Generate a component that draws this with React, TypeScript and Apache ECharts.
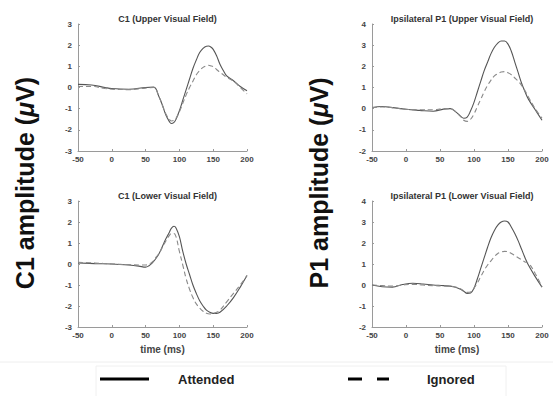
import React, { useEffect, useRef } from "react";
import * as echarts from "echarts";

// Panel A: C1 (Upper Visual Field)
const timeA = [-50, -30, -10, 0, 25, 50, 62, 70, 75, 80, 85, 88, 92, 95, 100, 105, 110, 115, 120, 125, 130, 135, 140, 143, 147, 150, 155, 160, 165, 170, 180, 190, 200];
const attA = [0.15, 0.12, 0.0, -0.05, -0.08, 0.0, 0.02, -0.45, -0.85, -1.3, -1.6, -1.7, -1.65, -1.5, -1.1, -0.6, -0.1, 0.4, 0.9, 1.3, 1.65, 1.85, 1.95, 1.96, 1.9, 1.8, 1.5, 1.1, 0.8, 0.55, 0.32, 0.05, -0.15];
const ignA = [0.05, 0.05, -0.05, -0.08, -0.1, -0.03, 0.0, -0.45, -0.85, -1.25, -1.5, -1.58, -1.55, -1.45, -1.15, -0.75, -0.35, 0.0, 0.3, 0.6, 0.8, 0.95, 1.03, 1.05, 1.02, 0.98, 0.85, 0.72, 0.6, 0.48, 0.3, 0.0, -0.3];

// Panel B: Ipsilateral P1 (Upper Visual Field)
const timeB = [-50, -35, -20, 0, 20, 40, 55, 65, 75, 80, 85, 90, 95, 100, 105, 110, 115, 120, 125, 130, 135, 140, 145, 150, 155, 160, 165, 170, 175, 180, 190, 200];
const attB = [0.05, 0.1, 0.05, -0.03, -0.08, -0.12, -0.02, 0.0, -0.2, -0.35, -0.45, -0.4, -0.1, 0.3, 0.8, 1.3, 1.8, 2.2, 2.6, 2.9, 3.1, 3.2, 3.2, 3.05, 2.7, 2.2, 1.7, 1.2, 0.8, 0.45, -0.05, -0.55];
const ignB = [0.05, 0.08, 0.05, -0.03, -0.05, -0.05, 0.0, 0.0, -0.2, -0.35, -0.55, -0.6, -0.5, -0.25, 0.1, 0.45, 0.8, 1.1, 1.35, 1.55, 1.65, 1.73, 1.75, 1.7, 1.6, 1.45, 1.3, 1.1, 0.85, 0.55, 0.0, -0.45];

// Panel C: C1 (Lower Visual Field)
const timeC = [-50, -25, 0, 25, 40, 50, 55, 60, 65, 70, 75, 80, 85, 88, 92, 95, 100, 105, 110, 115, 120, 125, 130, 135, 140, 145, 150, 155, 160, 170, 180, 190, 200];
const attC = [0.05, 0.02, 0.0, -0.05, -0.1, -0.15, -0.08, 0.05, 0.25, 0.5, 0.85, 1.2, 1.5, 1.7, 1.8, 1.72, 1.3, 0.6, 0.0, -0.5, -1.0, -1.4, -1.75, -2.0, -2.2, -2.3, -2.35, -2.35, -2.3, -2.0, -1.6, -1.1, -0.55];
const ignC = [0.08, 0.05, 0.0, -0.03, -0.05, -0.05, 0.0, 0.1, 0.3, 0.5, 0.8, 1.1, 1.35, 1.45, 1.45, 1.3, 0.6, -0.05, -0.7, -1.2, -1.6, -1.9, -2.1, -2.25, -2.35, -2.38, -2.35, -2.3, -2.2, -1.8, -1.4, -1.0, -0.55];

// Panel D: Ipsilateral P1 (Lower Visual Field)
const timeD = [-50, -35, -20, -5, 10, 25, 40, 55, 70, 80, 85, 90, 95, 100, 105, 110, 115, 120, 125, 130, 135, 140, 145, 150, 155, 160, 165, 170, 175, 180, 190, 200];
const attD = [0.0, -0.08, -0.1, 0.02, 0.08, 0.05, 0.0, -0.03, -0.08, -0.2, -0.3, -0.4, -0.38, -0.15, 0.3, 0.8, 1.3, 1.8, 2.25, 2.6, 2.85, 3.0, 3.05, 3.0, 2.75, 2.45, 2.1, 1.7, 1.3, 0.95, 0.4, -0.1];
const ignD = [0.0, -0.03, -0.05, 0.0, 0.03, 0.0, -0.03, -0.05, -0.08, -0.18, -0.28, -0.35, -0.33, -0.15, 0.1, 0.4, 0.7, 0.95, 1.15, 1.35, 1.5, 1.57, 1.6, 1.58, 1.5, 1.4, 1.3, 1.2, 1.1, 1.05, 0.55, -0.1];

const titles = [
  "C1 (Upper Visual Field)",
  "Ipsilateral P1 (Upper Visual Field)",
  "C1 (Lower Visual Field)",
  "Ipsilateral P1 (Lower Visual Field)",
];
const xTicks = [-50, 0, 50, 100, 150, 200];
const yRanges = [
  [-3, 3],
  [-2, 4],
  [-3, 3],
  [-2, 4],
];
const legendNames = ["Attended", "Ignored"];
const xAxisLabel = "time (ms)";
const yLabelPrefixes = ["C1", "P1"];

const pair = (t: number[], v: number[]) => t.map((x, i) => [x, v[i]]);

export default function App() {
  const ref = useRef<HTMLDivElement>(null);
  useEffect(() => {
    if (!ref.current) return;
    const chart = echarts.init(ref.current, undefined, { renderer: "svg" });
    const grids = [
      { left: 78, top: 24, width: 169, height: 127 },
      { left: 372, top: 24, width: 170, height: 127 },
      { left: 78, top: 201, width: 169, height: 126 },
      { left: 372, top: 201, width: 170, height: 126 },
    ];
    const font = "Liberation Sans, Arial, sans-serif";
    const axisColor = "#9a9a9a";
    const labelColor = "#444";
    const panels = [
      [timeA, attA, ignA],
      [timeB, attB, ignB],
      [timeC, attC, ignC],
      [timeD, attD, ignD],
    ];
    const series: any[] = [];
    panels.forEach((p, i) => {
      series.push({
        type: "line",
        name: legendNames[0],
        xAxisIndex: i,
        yAxisIndex: i,
        data: pair(p[0], p[1]),
        smooth: 0.4,
        showSymbol: false,
        lineStyle: { color: "#555", width: 1.1 },
      });
      series.push({
        type: "line",
        name: legendNames[1],
        xAxisIndex: i,
        yAxisIndex: i,
        data: pair(p[0], p[2]),
        smooth: 0.4,
        showSymbol: false,
        lineStyle: { color: "#8a8a8a", width: 1.1, type: [5, 3] },
      });
    });
    const bigLabel = (prefix: string, x: number) => ({
      type: "text",
      x,
      y: 183,
      rotation: Math.PI / 2,
      style: {
        text: `${prefix} amplitude ({mu|\u03BC}V)`,
        fontSize: 25,
        fontWeight: "bold",
        fill: "#111",
        fontFamily: font,
        align: "center",
        verticalAlign: "middle",
        rich: {
          mu: {
            fontSize: 25,
            fontStyle: "italic",
            fontWeight: "bold",
            fill: "#111",
            fontFamily: font,
          },
        },
      },
    });
    const option: any = {
      animation: false,
      backgroundColor: "#fff",
      title: titles.map((t, i) => ({
        text: t,
        left: grids[i].left + grids[i].width / 2,
        textAlign: "center",
        top: grids[i].top - 15,
        textStyle: { fontSize: 9, fontWeight: "bold", color: "#333", fontFamily: font },
      })),
      grid: grids,
      xAxis: grids.map((_, i) => ({
        type: "value",
        gridIndex: i,
        min: -50,
        max: 200,
        interval: 50,
        axisLine: { show: true, onZero: false, lineStyle: { color: axisColor, width: 1 } },
        axisTick: { show: true, inside: true, length: 2, lineStyle: { color: axisColor } },
        axisLabel: {
          fontSize: 8,
          fontWeight: "bold",
          color: labelColor,
          fontFamily: font,
          margin: 4,
          showMinLabel: true,
          showMaxLabel: true,
          customValues: xTicks,
        },
        splitLine: { show: false },
        name: i >= 2 ? xAxisLabel : "",
        nameLocation: "middle",
        nameGap: 17,
        nameTextStyle: { fontSize: 10, fontWeight: "bold", color: labelColor, fontFamily: font },
      })),
      yAxis: grids.map((_, i) => ({
        type: "value",
        gridIndex: i,
        min: yRanges[i][0],
        max: yRanges[i][1],
        interval: 1,
        axisLine: { show: true, onZero: false, lineStyle: { color: axisColor, width: 1 } },
        axisTick: { show: true, inside: true, length: 2, lineStyle: { color: axisColor } },
        axisLabel: {
          fontSize: 8,
          fontWeight: "bold",
          color: labelColor,
          fontFamily: font,
          margin: 6,
        },
        splitLine: { show: false },
      })),
      series,
      graphic: [
        bigLabel(yLabelPrefixes[0], 25),
        bigLabel(yLabelPrefixes[1], 319),
        {
          type: "line",
          shape: { x1: 0, y1: 362, x2: 553, y2: 362 },
          style: { stroke: "#eeeeee", lineWidth: 1 },
        },
        {
          type: "rect",
          shape: { x: 96, y: 366, width: 410, height: 32 },
          style: { fill: "none", stroke: "#f0f0f0", lineWidth: 1 },
        },
        {
          type: "line",
          shape: { x1: 100, y1: 379, x2: 149, y2: 379 },
          style: { stroke: "#000", lineWidth: 3 },
        },
        {
          type: "text",
          x: 178,
          y: 379,
          style: {
            text: legendNames[0],
            fontSize: 13,
            fontWeight: "bold",
            fill: "#222",
            fontFamily: font,
            verticalAlign: "middle",
          },
        },
        {
          type: "line",
          shape: { x1: 348, y1: 379, x2: 362, y2: 379 },
          style: { stroke: "#000", lineWidth: 3 },
        },
        {
          type: "line",
          shape: { x1: 377, y1: 379, x2: 389, y2: 379 },
          style: { stroke: "#000", lineWidth: 3 },
        },
        {
          type: "text",
          x: 427,
          y: 379,
          style: {
            text: legendNames[1],
            fontSize: 13,
            fontWeight: "bold",
            fill: "#222",
            fontFamily: font,
            verticalAlign: "middle",
          },
        },
      ],
    };
    chart.setOption(option);
    return () => chart.dispose();
  }, []);
  return <div ref={ref} style={{ width: 553, height: 396, position: "absolute", left: 0, top: 0 }} />;
}
